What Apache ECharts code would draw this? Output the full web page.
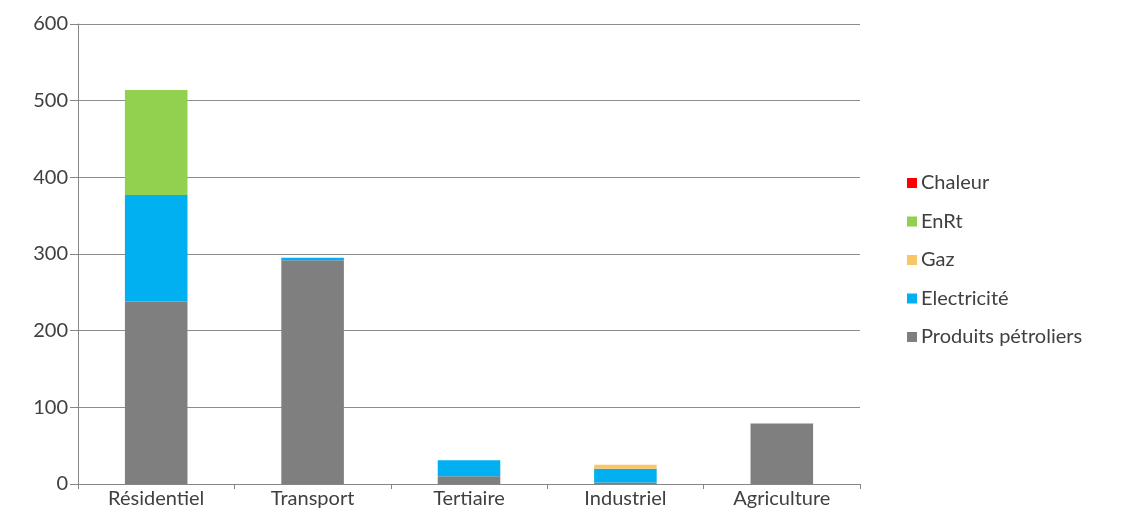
<!DOCTYPE html>
<html><head><meta charset="utf-8">
<script src="https://cdn.jsdelivr.net/npm/echarts@6/dist/echarts.min.js"></script>
<style>html,body{margin:0;padding:0;background:#fff}#c{width:1121px;height:529px}</style>
</head><body><div id="c"></div>
<script>
const categories = ['Résidentiel', 'Transport', 'Tertiaire', 'Industriel', 'Agriculture'];
const produitsPetroliers = [238, 292, 10, 2, 79];
const electricite = [139, 3, 21, 18, 0];
const gaz = [0, 0, 0, 5, 0];
const enrt = [137, 0, 0, 0, 0];
const chaleur = [0, 0, 0, 0, 0];
const yTicks = [0, 100, 200, 300, 400, 500, 600];

const font = 'Lato, "Open Sans", sans-serif';
const mk = (name, data, color) => ({
  name, type: 'bar', stack: 'total', data, barWidth: '40%',
  itemStyle: { color }, emphasis: { disabled: true }
});
const chart = echarts.init(document.getElementById('c'));
chart.setOption({
  animation: false,
  textStyle: { fontFamily: font },
  grid: { left: 78, right: 261, top: 24, bottom: 45, containLabel: false },
  legend: {
    orient: 'vertical', left: 902, top: 168, itemGap: 18.5, itemWidth: 10, itemHeight: 10,
    icon: 'rect',
    textStyle: { fontFamily: font, fontSize: 20, color: '#404040', padding: [0, 0, 0, -1] },
    data: ['Chaleur', 'EnRt', 'Gaz', 'Electricité', 'Produits pétroliers']
  },
  xAxis: {
    type: 'category', data: categories,
    axisLine: { lineStyle: { color: '#868686', width: 1 } },
    axisTick: { show: true, length: 5, lineStyle: { color: '#868686' } },
    axisLabel: { fontSize: 20, color: '#404040', margin: 5, fontFamily: font }
  },
  yAxis: {
    type: 'value', min: 0, max: 600, interval: 100,
    axisLine: { show: true, lineStyle: { color: '#868686', width: 1 } },
    axisTick: { show: true, length: 8, lineStyle: { color: '#868686' } },
    splitLine: { lineStyle: { color: '#8c8c8c', width: 1 } },
    axisLabel: { fontSize: 20, color: '#404040', margin: 10, fontFamily: font,
      formatter: v => yTicks.includes(v) ? String(v) : '' }
  },
  series: [
    mk('Produits pétroliers', produitsPetroliers, '#7f7f7f'),
    mk('Electricité', electricite, '#00b0f0'),
    mk('Gaz', gaz, '#fcc563'),
    mk('EnRt', enrt, '#92d050'),
    mk('Chaleur', chaleur, '#ff0000')
  ]
});
</script></body></html>
